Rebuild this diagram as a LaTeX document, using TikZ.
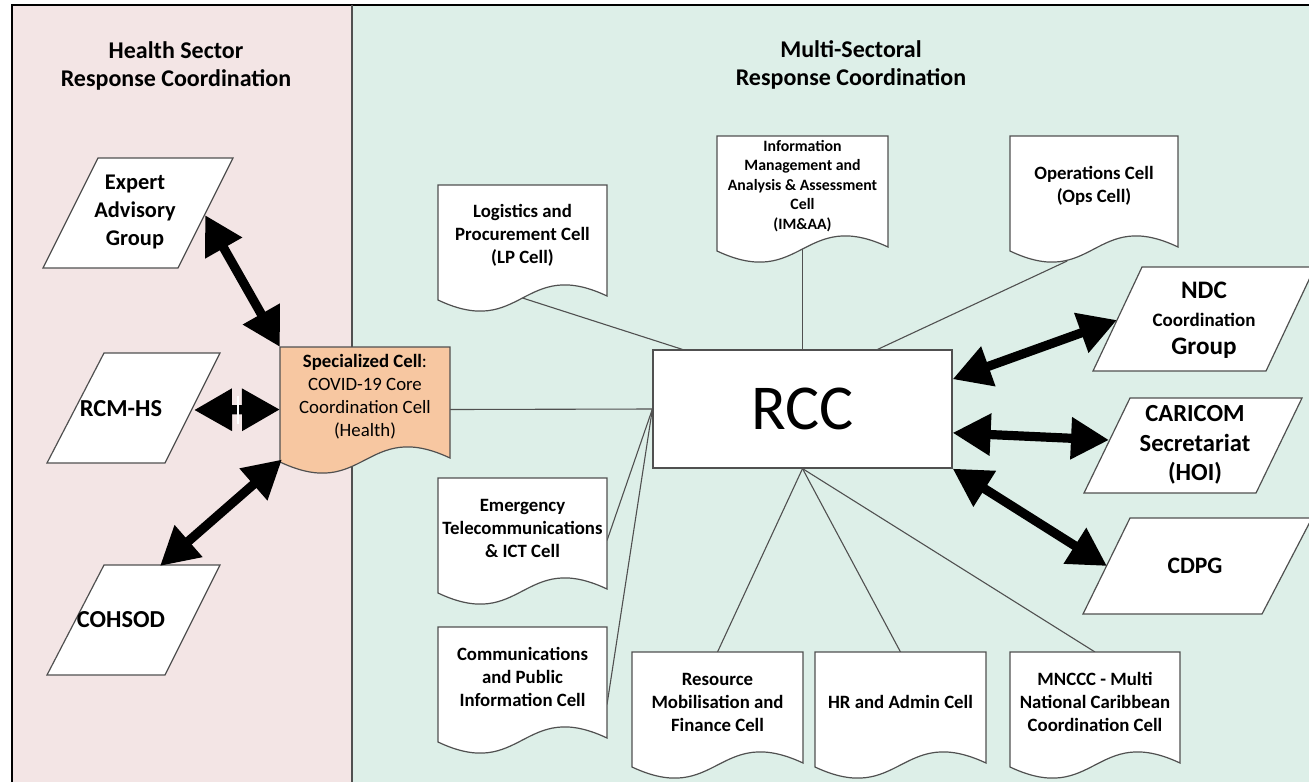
\documentclass[tikz,border=0pt]{standalone}
\usepackage{fontspec}
\setmainfont{Carlito}
\usetikzlibrary{arrows.meta,calc}
\pgfdeclarelayer{bg}
\pgfdeclarelayer{lines}
\pgfsetlayers{bg,lines,main}
\definecolor{pinkbg}{HTML}{F3E5E5}
\definecolor{greenbg}{HTML}{DDEFE8}
\definecolor{specfill}{HTML}{F7C7A1}
\definecolor{edge}{HTML}{505050}
\tikzset{
  docframe/.style={rectangle, draw=none, minimum height=62.5pt, inner sep=0pt, outer sep=0pt},
  docline/.style={draw=edge, line width=0.6pt},
  doctext/.style={font=\bfseries\fontsize{9.4}{11.5}\selectfont, align=center, text=black, inner sep=0pt},
  smalltext/.style={font=\bfseries\fontsize{7.9}{9.8}\selectfont, align=center, text=black, inner sep=0pt},
  paraline/.style={draw=edge, line width=0.6pt, fill=white},
  paratext/.style={font=\bfseries\fontsize{12.2}{14}\selectfont, align=center, text=black, inner sep=0pt},
  title/.style={font=\bfseries\fontsize{12}{14}\selectfont, align=center, text=black, inner sep=0pt},
  conn/.style={draw=edge, line width=0.55pt},
  bigarrow/.style={{Triangle[length=19pt,width=20pt]}-{Triangle[length=19pt,width=20pt]}, line width=4.6pt, black},
  rccbox/.style={draw=edge, line width=0.6pt, fill=white, minimum width=149.5pt, minimum height=59pt, inner sep=0pt, font=\fontsize{32}{38}\selectfont}
}
\newcommand{\docnode}[7]{% name, x, y, width(px), fill, textstyle, text
  \node[docframe, minimum width=#4*0.5pt, anchor=north west] (#1) at (#2,#3) {};
  \draw[docline, fill=#5] (#1.north west) -- (#1.north east) -- ($(#1.north east)+(0,111)$)
     .. controls ($(#1.north)+(0,71)$) and ($(#1.north)+(0,155)$) .. ($(#1.north west)+(0,115)$) -- cycle;
  \node[#6] (#1-t) at ($(#1.north)+(0,50)$) {#7};
}
\begin{document}
\begin{tikzpicture}[x=0.5pt,y=-0.5pt]
\useasboundingbox (0,0) rectangle (1309,782);
\clip (0,0) rectangle (1309,782);
\begin{pgfonlayer}{bg}
  \fill[white] (0,0) rectangle (1309,782);
  \fill[pinkbg] (12,5) rectangle (352,782);
  \fill[greenbg] (352,5) rectangle (1309,782);
  \draw[black, line width=1pt] (12,782) -- (12,5) -- (1309,5);
  \draw[edge, line width=0.8pt] (352,5) -- (352,782);
\end{pgfonlayer}

% titles
\node[title] (t1) at (176,66) {Health Sector\\Response Coordination};
\node[title] (t2) at (851,65) {Multi-Sectoral\\Response Coordination};

% left parallelograms
\draw[paraline] (98,158) -- (233,158) -- (178,268) -- (43,268) -- cycle;
\node[paratext, font=\bfseries\fontsize{11.2}{14}\selectfont] (exp) at (135,212) {Expert\\Advisory\\Group};
\draw[paraline] (104,353) -- (220,353) -- (165,463) -- (47,463) -- cycle;
\node[paratext] (rcm) at (121,409) {RCM-HS};
\draw[paraline] (104,565) -- (220,565) -- (165,675) -- (47,675) -- cycle;
\node[paratext] (coh) at (121,620) {COHSOD};

% right parallelograms
\draw[paraline] (1142,267) -- (1315,267) -- (1266,371) -- (1093,371) -- cycle;
\node[paratext, font=\bfseries\fontsize{12.6}{14}\selectfont] (ndc) at (1204,320) {NDC\\{\fontsize{9.5}{14}\selectfont Coordination}\\Group};
\draw[paraline] (1130,398) -- (1302,398) -- (1256,493) -- (1084,493) -- cycle;
\node[paratext, font=\bfseries\fontsize{12.3}{14.7}\selectfont] (cari) at (1195,445) {CARICOM\\Secretariat\\(HOI)};
\draw[paraline] (1130,518) -- (1312,518) -- (1262,614) -- (1083,614) -- cycle;
\node[paratext, font=\bfseries\fontsize{11.8}{14}\selectfont] (cdpg) at (1195,566) {CDPG};

% document shapes
\docnode{spec}{280}{347}{170}{specfill}{doctext}{{\bfseries Specialized Cell}{\mdseries :}\\\mdseries COVID-19 Core\\\mdseries Coordination Cell\\\mdseries (Health)}
\docnode{lp}{438}{185}{169}{white}{doctext}{Logistics and\\Procurement Cell\\(LP Cell)}
\docnode{im}{717}{136}{171}{white}{smalltext}{Information\\Management and\\Analysis \& Assessment\\Cell\\(IM\&AA)}
\docnode{ops}{1010}{136}{168}{white}{doctext}{Operations Cell\\(Ops Cell)}
\docnode{em}{438}{478}{169}{white}{doctext}{Emergency\\Telecommunications\\\& ICT Cell}
\docnode{co}{438}{627}{169}{white}{doctext}{Communications\\and Public\\Information Cell}
\docnode{res}{632}{652}{171}{white}{doctext}{Resource\\Mobilisation and\\Finance Cell}
\docnode{hr}{815}{652}{171}{white}{doctext}{HR and Admin Cell}
\docnode{mn}{1010}{652}{170}{white}{doctext}{MNCCC - Multi\\National Caribbean\\Coordination Cell}

% RCC
\node[rccbox] (rcc) at (802.5,409) {RCC};

% thin connectors
\begin{pgfonlayer}{lines}
  \draw[conn] (spec.east) -- (rcc.west);
  \draw[conn] ($(lp.north)+(0,113)$) -- ($(rcc.north west)!0.1!(rcc.north east)$);
  \draw[conn] ($(im.north)+(0,113)$) -- (rcc.north);
  \draw[conn] ($(ops.south west)!0.34!(ops.south east)$) -- ($(rcc.north west)!0.75!(rcc.north east)$);
  \draw[conn] (em.east) -- (rcc.west);
  \draw[conn] ($(co.east)+(0,15)$) -- (rcc.west);
  \draw[conn] (res.north) -- (rcc.south);
  \draw[conn] (hr.north) -- (rcc.south);
  \draw[conn] (mn.north) -- (rcc.south);
\end{pgfonlayer}

% big arrows
\coordinate (expA) at (205,215);
\coordinate (rcmA) at (194,410);
\coordinate (cohA) at (160,566);
\coordinate (ndcA) at (1117,320);
\coordinate (cariA) at (1109,440);
\coordinate (cdpgA) at (1107,566);
\draw[bigarrow] (expA) -- (spec.north west);
\draw[bigarrow] (rcmA) -- (spec.west);
\draw[white, line width=1.2pt] (238,396) -- (238,424);
\draw[bigarrow] (cohA) -- ($(spec.west)+(2,50)$);
\draw[bigarrow] ($(rcc.north east)!0.25!(rcc.south east)$) -- (ndcA);
\draw[bigarrow] ($(rcc.north east)!0.7!(rcc.south east)$) -- (cariA);
\draw[bigarrow] (rcc.south east) -- (cdpgA);
\end{tikzpicture}
\end{document}
